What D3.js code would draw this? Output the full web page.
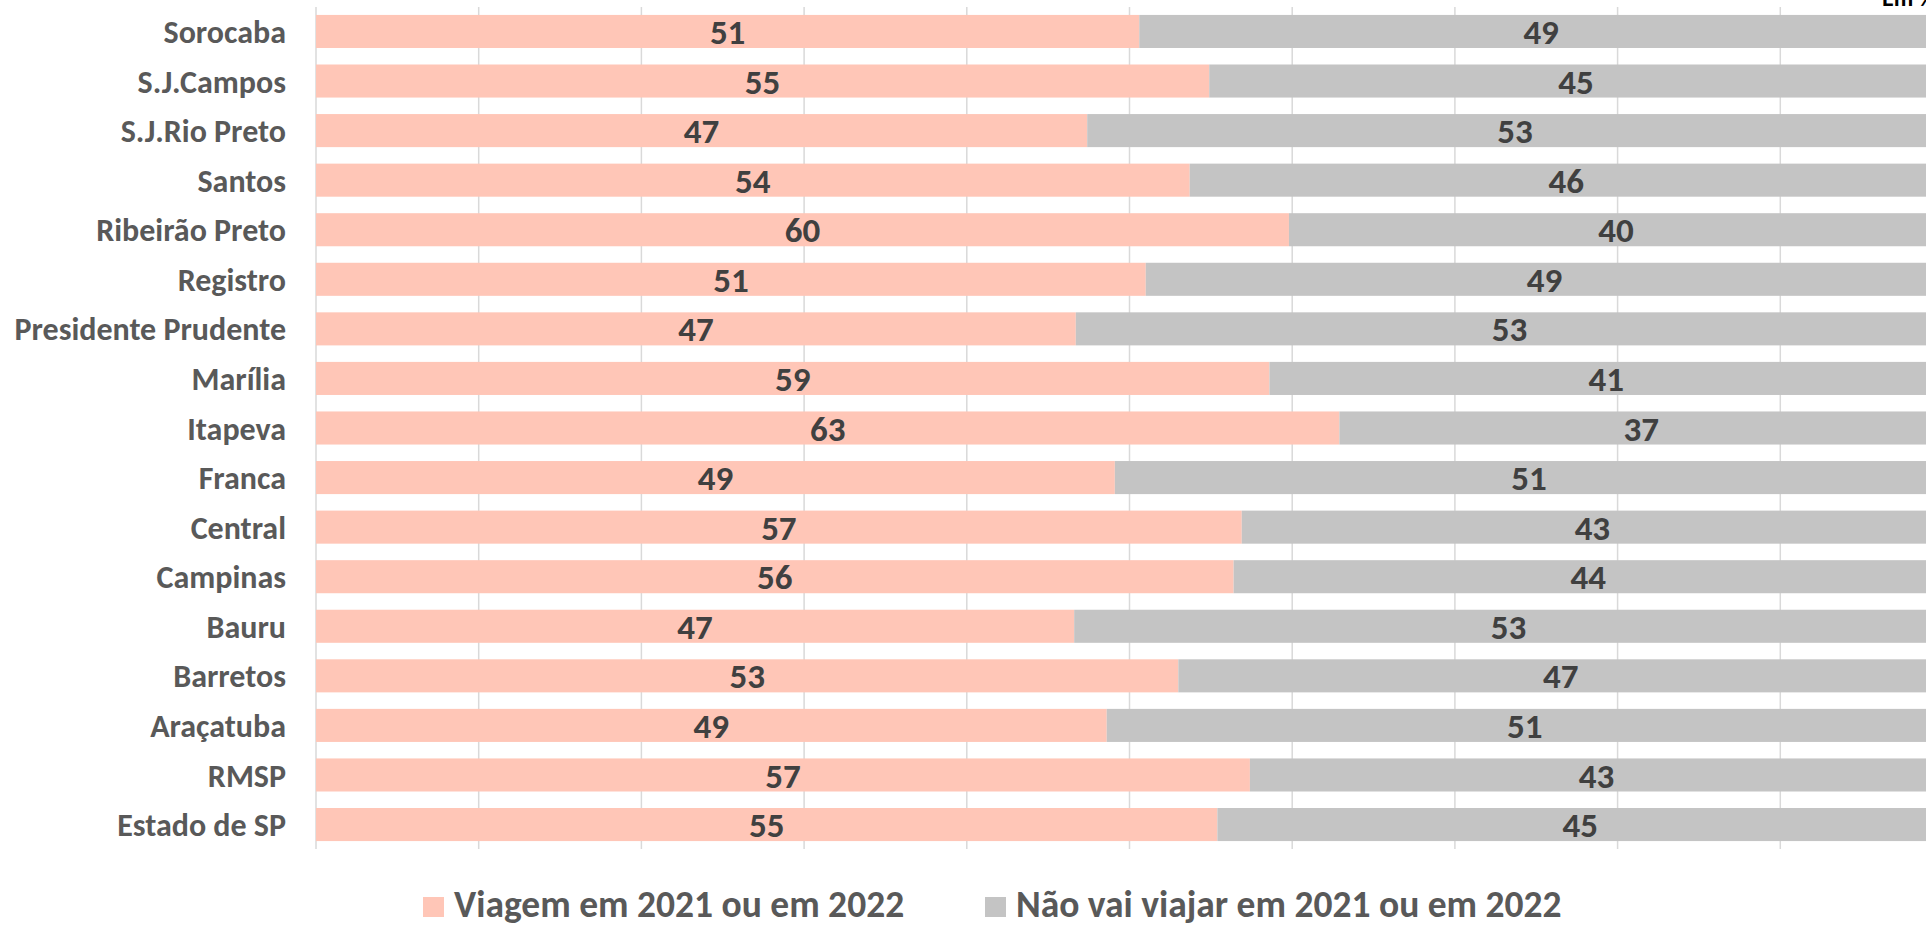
<!DOCTYPE html>
<html>
<head>
<meta charset="utf-8">
<script src="https://cdn.jsdelivr.net/npm/d3@7"></script>
<style>
  body { margin: 0; background: #fff; overflow: hidden; }
  svg { display: block; }
  text { font-family: Carlito, Calibri, Lato, sans-serif; font-weight: bold; }
</style>
</head>
<body>
<svg id="chart" width="1926" height="926"></svg>
<script>
// categories, top to bottom as drawn
const categories = ['Sorocaba', 'S.J.Campos', 'S.J.Rio Preto', 'Santos', 'Ribeirão Preto', 'Registro',
  'Presidente Prudente', 'Marília', 'Itapeva', 'Franca', 'Central', 'Campinas', 'Bauru',
  'Barretos', 'Araçatuba', 'RMSP', 'Estado de SP'];

// % that will travel / will not travel
const viagem = [50.6, 54.9, 47.4, 53.7, 59.8, 51.0, 46.7, 58.6, 62.9, 49.1, 56.9, 56.4, 46.6, 53.0, 48.6, 57.4, 55.4];
const naoViaja = [49.4, 45.1, 52.6, 46.3, 40.2, 49.0, 53.3, 41.4, 37.1, 50.9, 43.1, 43.6, 53.4, 47.0, 51.4, 42.6, 44.6];

const seriesNames = ['Viagem em 2021 ou em 2022', 'Não vai viajar em 2021 ou em 2022'];
const seriesColors = ['#FFC6B7', '#C4C4C4'];
const xTicks = [0, 10, 20, 30, 40, 50, 60, 70, 80, 90, 100];

const svg = d3.select('#chart');

const x = d3.scaleLinear().domain([0, 100]).range([316, 1943]);
const y = d3.scaleBand().domain(categories).range([7, 849]).paddingInner(0.333).paddingOuter(0.16);

// vertical gridlines
svg.append('g')
  .selectAll('line')
  .data(xTicks)
  .join('line')
  .attr('x1', d => x(d)).attr('x2', d => x(d))
  .attr('y1', 7).attr('y2', 849)
  .attr('stroke', '#D9D9D9')
  .attr('stroke-width', 1.5);

// stacked rows
const rows = categories.map((c, i) => ({ cat: c, vals: [viagem[i], naoViaja[i]] }));

const rowG = svg.append('g')
  .selectAll('g')
  .data(rows)
  .join('g');

rowG.each(function(d) {
  const g = d3.select(this);
  let start = 0;
  d.vals.forEach((v, k) => {
    g.append('rect')
      .attr('x', x(start))
      .attr('y', y(d.cat))
      .attr('width', x(start + v) - x(start))
      .attr('height', y.bandwidth())
      .attr('fill', seriesColors[k]);
    g.append('text')
      .attr('x', (x(start) + x(start + v)) / 2)
      .attr('y', y(d.cat) + y.bandwidth() / 2)
      .attr('dy', '0.36em')
      .attr('text-anchor', 'middle')
      .attr('fill', '#404040')
      .attr('font-size', 35)
      .text(Math.round(v));
    start += v;
  });
});

// category axis
const yAxis = svg.append('g')
  .attr('transform', 'translate(316,0)')
  .call(d3.axisLeft(y).tickSize(0).tickPadding(30));
yAxis.select('.domain').remove();
yAxis.selectAll('text')
  .attr('fill', '#595959')
  .attr('font-size', 32)
  .attr('font-family', 'Carlito, Calibri, Lato, sans-serif')
  .attr('dy', '0.36em');

// legend
const legendX = [423, 985];
const legend = svg.append('g')
  .selectAll('g')
  .data(seriesNames)
  .join('g')
  .attr('transform', (d, i) => `translate(${legendX[i]},897)`);
legend.append('rect')
  .attr('width', 21).attr('height', 20)
  .attr('fill', (d, i) => seriesColors[i]);
legend.append('text')
  .attr('x', 31)
  .attr('y', 20)
  .attr('fill', '#595959')
  .attr('font-size', 37.5)
  .text(d => d);

// unit note, cut off at the top like the source
svg.append('text')
  .attr('x', 1882)
  .attr('y', 6)
  .attr('fill', '#000')
  .attr('font-size', 24)
  .text('Em %');
</script>
</body>
</html>
